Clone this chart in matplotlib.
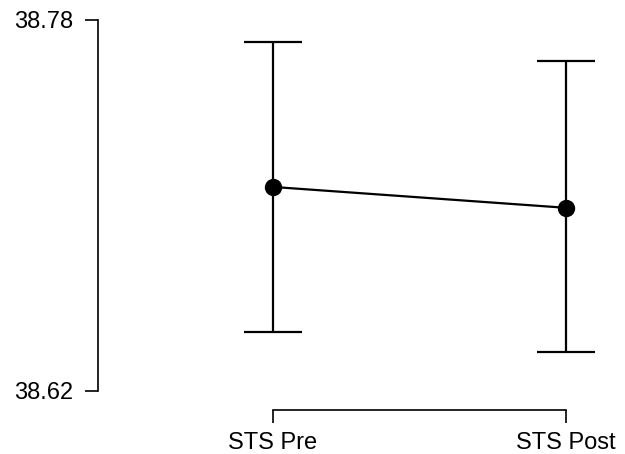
import matplotlib
matplotlib.use('Agg')
import matplotlib.pyplot as plt
import numpy as np

plt.rcParams['font.family'] = ['Liberation Sans', 'DejaVu Sans']

conditions = ['STS Pre', 'STS Post']
means = [38.708, 38.699]
lower = [38.6455, 38.6368]
upper = [38.7705, 38.7623]
yticks = [38.62, 38.78]

W, H = 625, 454
fig = plt.figure(figsize=(W / 100, H / 100), dpi=100)
# axes: left spine at x=98px, top at y=20px, bottom spine at y=410px
ax = fig.add_axes([98 / W, 1 - 410 / H, (W - 98) / W, (410 - 20) / H])

x = np.arange(len(conditions))
m = np.array(means)
yerr = [m - np.array(lower), np.array(upper) - m]

ax.errorbar(x, m, yerr=yerr, fmt='none', ecolor='black', elinewidth=1.6,
            capsize=21, capthick=1.6, zorder=2)
ax.plot(x, m, color='black', linewidth=1.6, marker='o', markersize=11.5, zorder=3)

ax.set_xlim(-0.597, 1.201)
ax.set_ylim(38.6118, 38.78)

for s in ['top', 'right']:
    ax.spines[s].set_visible(False)
ax.spines['left'].set_bounds(yticks[0], yticks[-1])
ax.spines['bottom'].set_bounds(0, 1)
for s in ['left', 'bottom']:
    ax.spines[s].set_linewidth(1.2)

ax.set_yticks(yticks)
ax.set_yticklabels([f'{v:.2f}' for v in yticks])
ax.set_xticks(x)
ax.set_xticklabels(conditions)
ax.tick_params(axis='both', length=9.5, width=1.2, labelsize=17)
ax.tick_params(axis='y', pad=8)
ax.tick_params(axis='x', pad=6)
ax.patch.set_visible(False)

fig.savefig('out.png', dpi=100)
